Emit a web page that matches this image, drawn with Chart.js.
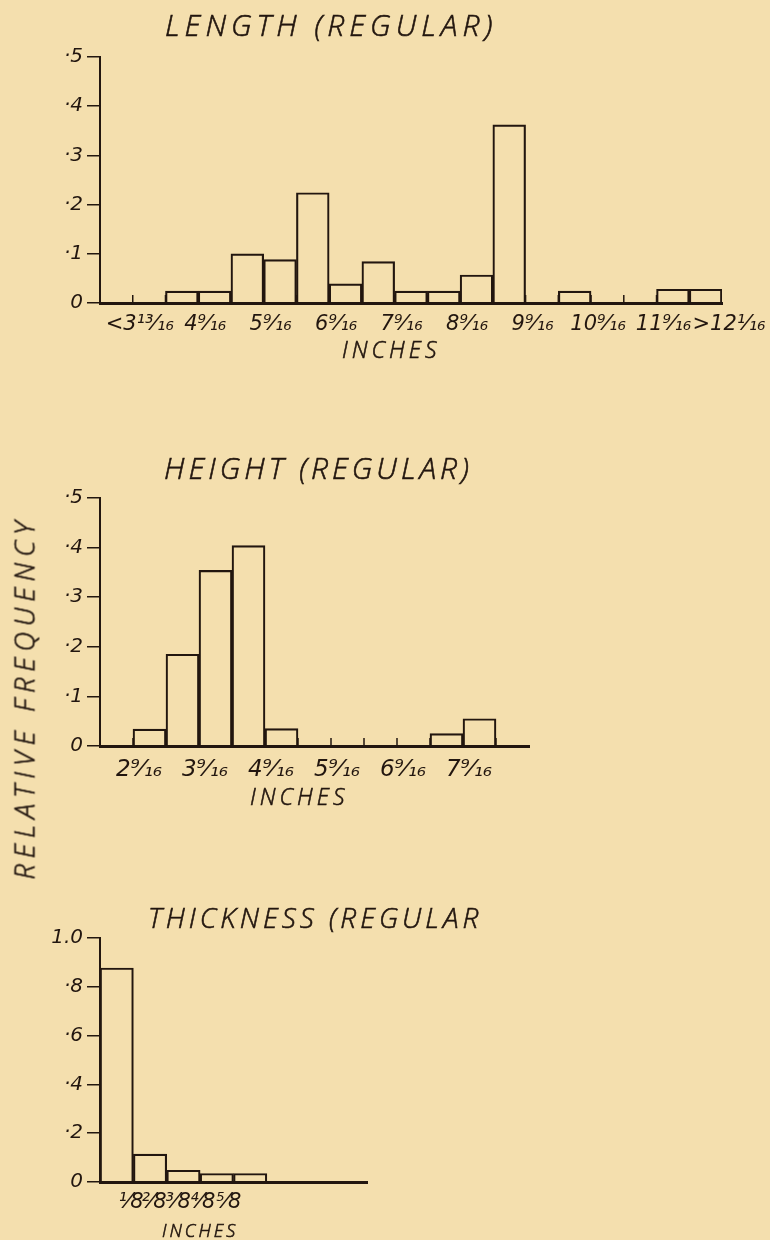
<!DOCTYPE html>
<html>
<head>
<meta charset="utf-8">
<script src="https://cdn.jsdelivr.net/npm/chart.js@4.4.0/dist/chart.umd.min.js"></script>
<style>
  body { margin: 0; background: #f4dfae; }
  #page { position: relative; width: 770px; height: 1240px; overflow: hidden; background: #f4dfae; }
  canvas { position: absolute; left: 0; }
  .lab {
    position: absolute; white-space: nowrap; line-height: 1; color: #22160f;
    font-family: "Open Sans", "DejaVu Sans", sans-serif; font-style: italic; font-weight: 300;
    -webkit-text-stroke: 0.6px #22160f;
  }
  .title { font-size: 30px; letter-spacing: 5px; }
  .inches { font-size: 23px; letter-spacing: 4px; }
  #t1 { left: 165px; top: 10px; }
  #t2 { left: 164px; top: 453px; letter-spacing: 4px; }
  #t3 { left: 148px; top: 903px; font-size: 28px; letter-spacing: 4px; }
  #i1 { left: 342px; top: 338px; }
  #i2 { left: 250px; top: 785px; }
  #i3 { left: 162px; top: 1221px; font-size: 18px; letter-spacing: 3px; }
  #rf { left: -166px; top: 684px; width: 380px; text-align: center; font-size: 27px; letter-spacing: 6px; transform: rotate(-90deg); }
</style>
</head>
<body>
<div id="page">
  <canvas id="lengthChart" width="770" height="370" style="top:0px"></canvas>
  <canvas id="heightChart" width="770" height="400" style="top:420px"></canvas>
  <canvas id="thickChart" width="770" height="360" style="top:880px"></canvas>
  <div class="lab title" id="t1">LENGTH (REGULAR)</div>
  <div class="lab title" id="t2">HEIGHT (REGULAR)</div>
  <div class="lab title" id="t3">THICKNESS (REGULAR</div>
  <div class="lab inches" id="i1">INCHES</div>
  <div class="lab inches" id="i2">INCHES</div>
  <div class="lab inches" id="i3">INCHES</div>
  <div class="lab" id="rf">RELATIVE FREQUENCY</div>
</div>
<script>
var ink = "#22160f";

// LENGTH (REGULAR) - 19 half inch classes
var lengthFreq = [0, 0, 0.024, 0.024, 0.1, 0.088, 0.224, 0.039, 0.084, 0.024, 0.024, 0.057, 0.362, 0, 0.024, 0, 0, 0.028, 0.028];
var lengthTicks = [1, 3, 5, 7, 9, 11, 13, 15, 17, 19];
var lengthLabels = ["<3¹³⁄₁₆", "4⁹⁄₁₆", "5⁹⁄₁₆", "6⁹⁄₁₆", "7⁹⁄₁₆", "8⁹⁄₁₆", "9⁹⁄₁₆", "10⁹⁄₁₆", "11⁹⁄₁₆", ">12¹⁄₁₆"];

// HEIGHT (REGULAR) - 13 classes
var heightFreq = [0, 0.034, 0.185, 0.354, 0.404, 0.035, 0, 0, 0, 0, 0.025, 0.055, 0];
var heightTicks = [1, 3, 5, 7, 9, 11];
var heightLabels = ["2⁹⁄₁₆", "3⁹⁄₁₆", "4⁹⁄₁₆", "5⁹⁄₁₆", "6⁹⁄₁₆", "7⁹⁄₁₆"];

// THICKNESS (REGULAR) - 8 classes, labels are squeezed together in the original
var thickFreq = [0.877, 0.114, 0.048, 0.035, 0.035, 0, 0, 0];
var thickTicks = [0.93, 1.62, 2.34, 3.08, 3.86];
var thickLabels = ["¹⁄8", "²⁄8", "³⁄8", "⁴⁄8", "⁵⁄8"];

// small upward ticks on the baseline at class boundaries
var innerTicks = {
  id: "innerTicks",
  afterDatasetsDraw: function (chart, args, opts) {
    if (!opts.at) return;
    var xs = chart.scales.x, ys = chart.scales.y, ctx = chart.ctx;
    ctx.save();
    ctx.strokeStyle = ink;
    ctx.lineWidth = 1.5;
    opts.at.forEach(function (v) {
      var px = xs.getPixelForValue(v);
      ctx.beginPath();
      ctx.moveTo(px, ys.bottom);
      ctx.lineTo(px, ys.bottom - 8);
      ctx.stroke();
    });
    ctx.restore();
  }
};

function halfLabel(v) {
  var h = Math.round(v * 100);
  if (h % 10) return "";
  return h === 0 ? "0" : "·" + h / 10;
}

function thickLabel(v) {
  var t = Math.round(v * 10);
  if (t % 2) return "";
  if (t === 0) return "0";
  if (t === 10) return "1.0";
  return "·" + t;
}

function boundaries(n) {
  var out = [];
  for (var i = 1; i < n; i++) out.push(i);
  return out;
}

function histogram(id, freq, ticks, labels, opt) {
  var points = freq.map(function (f, i) {
    return { x: i + 0.5, y: f };
  });
  return new Chart(document.getElementById(id), {
    type: "bar",
    data: {
      datasets: [
        {
          data: points,
          backgroundColor: "rgba(0,0,0,0)",
          borderColor: ink,
          borderWidth: 1.5,
          barThickness: "flex",
          barPercentage: 1,
          categoryPercentage: 1,
        },
      ],
    },
    options: {
      responsive: false,
      animation: false,
      layout: { padding: opt.pad },
      plugins: {
        legend: { display: false },
        tooltip: { enabled: false },
        innerTicks: { at: opt.inner },
      },
      scales: {
        x: {
          type: "linear",
          min: 0,
          max: freq.length,
          offset: false,
          grid: { display: true, drawOnChartArea: false, drawTicks: false, offset: false },
          border: { color: ink, width: 3 },
          afterBuildTicks: function (axis) {
            axis.ticks = ticks.map(function (v) {
              return { value: v };
            });
          },
          afterFit: function (axis) {
            axis.height = 45;
          },
          ticks: {
            autoSkip: false,
            maxRotation: 0,
            minRotation: 0,
            padding: opt.xPad,
            labelOffset: opt.labelOffset,
            color: ink,
            font: { family: "DejaVu Sans", size: opt.xFont, style: "italic" },
            callback: function (v, i) {
              return labels[i];
            },
          },
        },
        y: {
          min: 0,
          max: opt.max,
          afterFit: function (axis) {
            axis.width = 55;
          },
          grid: { drawOnChartArea: false, tickLength: 13, color: ink, lineWidth: 1.5 },
          border: { color: ink, width: 2 },
          ticks: {
            stepSize: opt.step,
            padding: 4,
            color: ink,
            font: { family: "DejaVu Sans", size: 20, style: "italic" },
            callback: opt.yLabel,
          },
        },
      },
    },
    plugins: [innerTicks],
  });
}

histogram("lengthChart", lengthFreq, lengthTicks, lengthLabels, {
  pad: { top: 57, left: 45, right: 48, bottom: 22 },
  max: 0.5, step: 0.05, yLabel: halfLabel,
  labelOffset: 7, xFont: 21, xPad: 9,
  inner: boundaries(lengthFreq.length),
});

histogram("heightChart", heightFreq, heightTicks, heightLabels, {
  pad: { top: 78, left: 45, right: 241, bottom: 29 },
  max: 0.5, step: 0.05, yLabel: halfLabel,
  labelOffset: 6, xFont: 23, xPad: 10,
  inner: boundaries(heightFreq.length),
});

histogram("thickChart", thickFreq, thickTicks, thickLabels, {
  pad: { top: 58, left: 45, right: 403, bottom: 13 },
  max: 1, step: 0.1, yLabel: thickLabel,
  labelOffset: 0, xFont: 21, xPad: 8,
  inner: null,
});
</script>
</body>
</html>
